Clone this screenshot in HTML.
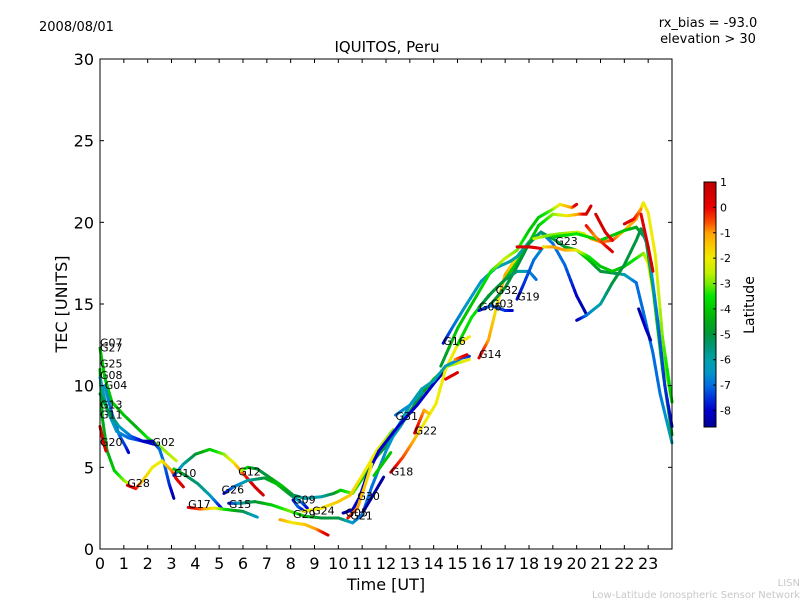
<!DOCTYPE html>
<html><head><meta charset="utf-8"><style>
body{margin:0;background:#fff;}
svg text{font-family:"DejaVu Sans","Liberation Sans",sans-serif;}
</style></head><body>
<svg id="chart" width="800" height="600" viewBox="0 0 800 600" xmlns="http://www.w3.org/2000/svg">
<rect width="800" height="600" fill="#fff"/>
<text x="39" y="31" font-size="13">2008/08/01</text>
<text x="387" y="52" font-size="15" text-anchor="middle">IQUITOS, Peru</text>
<text x="708" y="27" font-size="13" text-anchor="middle">rx_bias = -93.0</text>
<text x="708" y="43" font-size="13" text-anchor="middle">elevation &gt; 30</text>
<text x="386" y="590" font-size="16" text-anchor="middle">Time [UT]</text>
<text x="67" y="304" font-size="16" text-anchor="middle" transform="rotate(-90 67 304)">TEC [UNITS]</text>
<text x="800" y="586" font-size="10" fill="#c8c8c8" text-anchor="end">LISN</text>
<text x="800" y="598" font-size="10" fill="#c8c8c8" text-anchor="end">Low-Latitude Ionospheric Sensor Network</text>
<g id="tracks"></g>
<g id="labels"></g>
<g id="axes"></g>
<g id="cbar"></g>
<text x="754" y="305" font-size="14" text-anchor="middle" transform="rotate(-90 754 305)">Latitude</text>
</svg>
<script>
const xTicks=[0,1,2,3,4,5,6,7,8,9,10,11,12,13,14,15,16,17,18,19,20,21,22,23];
const yTicks=[0,5,10,15,20,25,30];
const cbTicks=[1,0,-1,-2,-3,-4,-5,-6,-7,-8];
const trackTimes=[
[0,0.2,0.5,1,1.5,2,2.5,3.2],
[0,0.1,0.3,0.6,1,1.2],
[0.2,0.5,0.8,1.1,1.2],
[0,0.3,0.7,1.2,1.8,2.3],
[0,0.4,0.8,1.3,1.8,2.2],
[0,0.15,0.25],
[2.2,2.5,2.7,2.9,3.1],
[1.15,1.5,1.8,2.2,2.6,3.0,3.2,3.5],
[3.1,3.5,4,4.6,5.2,5.6,5.9,6.2,6.5,6.85],
[3.1,3.6,4.1,4.6,5.1],
[3.7,4.2,4.8,5.4,6,6.6],
[5.2,5.6,6.2,6.9,7.4,8,8.5,8.7],
[5.9,6.2,6.6,7,7.6,8.1,8.6,9.3,9.8,10.1,10.6,11,11.4,12,12.6,13,13.5,14,14.6,15.5],
[5.4,5.9,6.5,7.2,8,8.6,9.3,10,10.6,11,11.4,12,12.5,13,13.5],
[7.55,8.1,8.6,9.1,9.57],
[8.1,8.3,8.6],
[8.5,9.3,10,10.5,11,11.6,12.3],
[10.2,10.6,10.9,11.2,11.7,12.5,13.3,14.1,14.4],
[10.4,10.8,11.1,11.4],
[11.05,11.5,11.9],
[11.5,12.2],
[12.2,12.7,13.1,13.6,14.1,14.5,15,15.5],
[15.9,16.3,16.7,17,17.5],
[13.2,13.6,13.8],
[12.4,13,13.5,14,14.5,15.2,15.5],
[14.4,14.8,15.3,16,16.6,17.2,17.5,18,18.5,19,19.5,20,20.4],
[14.3,15,15.8,16.4,17,17.5,18,18.4,19,19.3,19.8,20.0],
[15,15.6,16.3,17,17.8,18.4,19,19.6,20.1,20.4,20.6],
[16.4,17,17.5,18,18.5,19,19.5,20,20.5,21,21.5,22,22.5,22.8,23.2,23.5,24],
[15.9,16.4,17,17.3],
[15.9,16.5,17,17.5,18,18.3],
[17.5,17.8,18.2,18.6],
[17.5,18,18.5],
[18.6,19,19.5,20,20.5,21,21.5,22,22.5,22.8,23,23.3,23.6,24],
[18.2,18.8,19.3,20,20.3,20.6,21,21.5,22,22.5,22.8,23,23.3,23.6,24],
[19,20,21,22,22.5,22.9,23.2,23.6,24],
[20.0,20.4,21,21.5,22,22.5,22.7,23,23.4,23.7,24],
[20.8,21.2,21.5],
[20.4,20.8,21.5],
[22,22.4,22.7],
[22.7,23,23.2],
[22.6,22.9,23.1],
[14.5,15],
[14.9,15.4]
];
const trackTec=[
[12.3,10.5,9,8.2,7.5,6.8,6.3,5.4],
[11,8,6,4.8,4.2,4.0],
[10,8.3,7,6.2,5.9],
[10.5,8.5,7.2,6.8,6.6,6.4],
[9.5,8.3,7.5,6.9,6.6,6.6],
[7.5,6.5,6],
[6.6,6.1,5.2,4,3.1],
[3.9,3.7,4.2,5,5.4,4.8,4.3,3.8],
[4.5,5.2,5.8,6.1,5.8,5.3,4.8,4.3,3.8,3.3],
[4.9,4.5,4.0,3.3,2.5],
[2.55,2.45,2.5,2.4,2.3,1.95],
[3.4,3.8,4.2,4.35,4.0,3.3,2.8,2.5],
[4.8,5.0,4.9,4.5,3.9,3.3,3.1,3.2,3.4,3.6,3.4,4.3,5.3,6.3,7.5,8.4,9.5,10.4,11.2,11.6],
[2.8,2.8,2.9,2.7,2.3,2.0,1.9,1.9,1.6,2.1,3.8,6,7.5,8.8,9.6],
[1.8,1.6,1.5,1.2,0.85],
[3.0,2.6,2.3],
[2.3,2.5,2.9,3.3,4.5,6,7.3],
[2.2,2.4,3.2,4.5,6,7.5,8.8,10.3,10.8],
[1.9,2.5,3.8,5.2],
[2.3,3.4,4.4],
[4.5,5.9],
[4.7,5.6,6.5,7.7,8.9,11,12.5,13],
[11.7,12.8,15.2,16.8,17.9],
[7.1,8.5,8.3],
[8.2,8.8,9.8,10.3,11.2,11.7,11.8],
[12.6,13.6,14.8,16.4,17.2,17.6,17.9,18.8,19.4,18.7,17.4,15.5,14.4],
[11.2,13.5,15.5,17.0,17.8,18.3,19.5,20.3,20.8,21.1,20.9,21.1],
[12.5,14.2,15.5,16.5,18.2,19.8,20.5,20.4,20.5,20.5,21],
[15.0,16,17.3,18.7,19.4,19.0,18.5,18.3,17.7,17.0,16.9,16.8,16.3,14.5,12,9.5,6.5],
[14.6,14.9,14.6,14.6],
[14.8,15.8,16.5,17.0,17.0,16.5],
[15.3,16.3,17.7,18.5],
[18.5,18.5,18.4],
[18.5,18.5,18.3,18.3,17.9,17.3,17,17.3,17.8,18.1,17.5,15,12,9],
[19.0,19.2,19.3,19.4,19.3,19.0,18.8,18.9,19.5,20.2,21.2,20.6,18,13,9],
[19.1,19.3,18.9,19.5,19.7,19,16,11,7],
[14.0,14.3,15.0,16.3,17.4,18.9,19.6,18.5,14,10,7.5],
[20.5,19.4,18.9],
[19.8,19.1,18.2],
[19.9,20.2,20.8],
[20.5,18.5,17],
[14.7,13.5,12.8],
[10.4,10.8],
[11.6,11.9]
];
const trackLat=[
[-4,-4,-4,-4,-4.5,-3.5,-3,-2.5],
[-4,-4.5,-4.5,-4,-3,-2.5],
[-6.5,-7,-7,-7.5,-8],
[-6,-6,-6.5,-7,-7.5,-8],
[-5,-5,-6,-7,-8,-8.5],
[0.5,0.5,0.5],
[-8,-7,-7,-7.5,-8.5],
[0.5,0,-1.5,-2,-2,-1,0,0.5],
[-8,-6,-5,-4,-3,-2,-1,0,0.5,0.5],
[-4,-5,-5.5,-6,-8],
[0.5,-0.5,-2,-4,-5,-6.5],
[-8,-7,-6,-5,-4,-5,-7,-8],
[-2,-4,-5,-5,-4,-5,-6,-6,-5,-4,-3,-4,-5,-5,-6,-5,-5,-4,-3,-2],
[-8,-6,-5,-4,-3,-4,-5,-5,-6.5,-7,-7,-6.5,-6.5,-6,-6],
[-1,-2,-1.5,-1,0.5],
[-8,-7,-8],
[-2,-2,-1.5,-1.5,-2,-2,-3],
[-8.5,-8,-8,-8,-8,-8,-8,-8,-8.5],
[0,-1,-1.5,-2],
[-8.5,-8.5,-8.5],
[-4,-4],
[0.5,-0.5,-1,-2,-2,-2,-2,-2],
[0.5,-1,-2,-1,-2],
[0.5,-1,-1.5],
[-7,-6.5,-6,-6,-6,-7,-7.5],
[-8,-7,-6.5,-6.5,-6,-6,-6,-6,-6,-7,-7,-8,-8.5],
[-5,-4,-4,-3.5,-2.5,-3,-4,-4,-3,-2,-1,0.5],
[-4,-3.5,-4,-4,-4,-4,-3,-2,-1,0.5,0.5],
[-5,-5,-5,-5,-5.5,-5,-5,-4,-4,-5,-5,-6,-7,-7,-7,-7,-6],
[-8,-7,-7.5,-8],
[-5,-5,-5,-5.5,-6.5,-7],
[-8,-7.5,-7,-6.5],
[0.5,0.5,0],
[-2,-1,-1,-2,-3.5,-4,-4,-4,-3.5,-3,-2,-2,-3,-3],
[-2.5,-3,-3,-2.5,-2.5,-1,-1,-0.5,-1.5,-1,-2,-2,-2,-3,-4],
[-4,-3.5,-4,-4,-4.5,-5,-4,-4,-5],
[-8.5,-7,-6,-5,-5,-5,-5,-6,-7,-7.5,-8],
[0.5,0.5,0],
[0,-1,0.5],
[0.5,0,-1],
[0,0.5,0.5],
[-8.5,-8,-8.5],
[0,0.5],
[-1,0.5]
];
const satLabels=["G07","G27","G25","G08","G04","G13","G11","G20","G02","G28","G10","G12","G26","G17","G15","G09","G29","G24","G05","G21","G30","G18","G31","G22","G16","G14","G06","G03","G32","G19","G23"];
const labelTimes=[0,0,0,0,0.2,0,0,0,2.2,1.15,3.1,5.8,5.1,3.7,5.4,8.1,8.1,8.9,10.3,10.5,10.8,12.2,12.4,13.2,14.4,15.9,15.9,16.4,16.6,17.5,19.1];
const labelTec=[12.4,12.1,11.1,10.4,9.8,8.6,8.0,6.3,6.3,3.8,4.4,4.5,3.4,2.5,2.5,2.8,1.9,2.1,2.0,1.8,3.0,4.5,7.9,7.0,12.5,11.7,14.6,14.8,15.6,15.2,18.6];

const X0=100,X1=672,Y0=549,Y1=59;
const xs=t=>X0+t*(X1-X0)/24;
const ys=v=>Y0-v*(Y0-Y1)/30;
const CB_TOP=182,CB_BOT=427,CB_MAX=1,CB_MIN=-8.65;
const cy=l=>CB_TOP+(CB_MAX-l)*(CB_BOT-CB_TOP)/(CB_MAX-CB_MIN);
const STOPS=[[1,[190,0,0]],[0,[235,0,0]],[-0.6,[250,80,0]],[-1,[255,160,0]],[-1.5,[250,200,0]],[-2,[240,235,0]],[-2.6,[190,240,0]],[-3,[120,235,0]],[-3.5,[0,230,0]],[-4,[0,200,0]],[-4.5,[0,170,20]],[-5,[0,150,60]],[-5.5,[0,150,120]],[-6,[0,160,170]],[-6.5,[0,150,200]],[-7,[0,110,225]],[-7.5,[0,50,220]],[-8,[0,0,205]],[-8.65,[0,0,150]]];
function cmap(l){
  if(l>=STOPS[0][0])return `rgb(${STOPS[0][1]})`;
  for(let i=0;i<STOPS.length-1;i++){
    const [a,ca]=STOPS[i],[b,cb]=STOPS[i+1];
    if(l<=a&&l>=b){const f=(a-l)/(a-b);return `rgb(${ca.map((c,k)=>Math.round(c+(cb[k]-c)*f)).join(',')})`;}
  }
  return `rgb(${STOPS[STOPS.length-1][1]})`;
}
const NS='http://www.w3.org/2000/svg';
function mk(tag,attrs,parent){const e=document.createElementNS(NS,tag);for(const k in attrs)e.setAttribute(k,attrs[k]);parent.appendChild(e);return e;}
const tg=document.getElementById('tracks');
trackTimes.forEach((ts,i)=>{
  const g=mk('g',{},tg);
  
  
  for(let j=0;j<ts.length-1;j++){
    const n=6;
    for(let k=0;k<n;k++){
      const a=k/n,b=(k+1)/n;
      const t0=ts[j]+(ts[j+1]-ts[j])*a,t1=ts[j]+(ts[j+1]-ts[j])*b;
      const v0=trackTec[i][j]+(trackTec[i][j+1]-trackTec[i][j])*a,v1=trackTec[i][j]+(trackTec[i][j+1]-trackTec[i][j])*b;
      const lm=trackLat[i][j]+(trackLat[i][j+1]-trackLat[i][j])*(a+b)/2;
      const s=mk('line',{x1:xs(t0),y1:ys(v0),x2:xs(t1),y2:ys(v1),stroke:cmap(lm),'stroke-width':3,'stroke-linecap':'round'},g);
      
      
    }
  }
});
const lg=document.getElementById('labels');
satLabels.forEach((s,i)=>{
  const t=mk('text',{x:xs(labelTimes[i]),y:ys(labelTec[i]),'font-size':11,fill:'#000'},lg);
  
  
  t.textContent=s;
});
const ag=document.getElementById('axes');
const fr=mk('rect',{x:X0,y:Y1,width:X1-X0,height:Y0-Y1,fill:'none',stroke:'#000','stroke-width':1},ag);


xTicks.forEach(t=>{
  const x=xs(t);
  mk('line',{x1:x,y1:Y0,x2:x,y2:Y0-4,stroke:'#000'},ag);
  mk('line',{x1:x,y1:Y1,x2:x,y2:Y1+4,stroke:'#000'},ag);
  const l=mk('text',{x:x,y:Y0+20,'font-size':16,'text-anchor':'middle'},ag);
  
  
  l.textContent=t;
});
yTicks.forEach(v=>{
  const y=ys(v);
  mk('line',{x1:X0,y1:y,x2:X0+4,y2:y,stroke:'#000'},ag);
  mk('line',{x1:X1,y1:y,x2:X1-4,y2:y,stroke:'#000'},ag);
  const l=mk('text',{x:X0-6,y:y+6,'font-size':16,'text-anchor':'end'},ag);
  
  
  l.textContent=v;
});
const cg=document.getElementById('cbar');
for(let y=CB_TOP;y<CB_BOT;y++){
  const l=CB_MAX-(y+0.5-CB_TOP)*(CB_MAX-CB_MIN)/(CB_BOT-CB_TOP);
  mk('rect',{x:704,y:y,width:12,height:1.2,fill:cmap(l)},cg);
}
mk('rect',{x:704,y:CB_TOP,width:12,height:CB_BOT-CB_TOP,fill:'none',stroke:'#000','stroke-width':1},cg);
cbTicks.forEach(v=>{
  const y=cy(v);
  mk('line',{x1:713,y1:y,x2:716,y2:y,stroke:'#000'},cg);
  const l=mk('text',{x:720,y:y+4,'font-size':11},cg);
  
  
  l.textContent=v;
});
</script>
</body></html>
